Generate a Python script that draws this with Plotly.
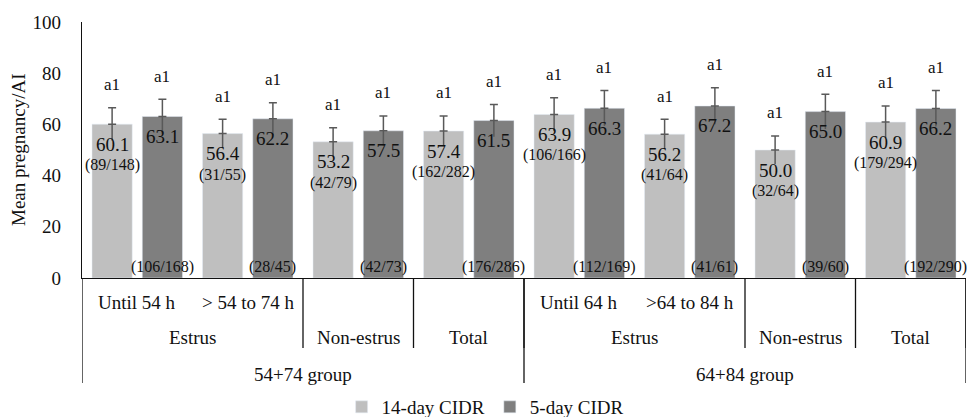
import plotly.graph_objects as go

# ---- data ----
sub_labels = ["Until 54 h", "> 54 to 74 h", "", "", "Until 64 h", ">64 to 84 h", "", ""]
mid_labels = ["Estrus", "Non-estrus", "Total", "Estrus", "Non-estrus", "Total"]
mid_spans = [2, 1, 1, 2, 1, 1]
top_labels = ["54+74 group", "64+84 group"]
top_spans = [4, 4]

series_names = ["14-day CIDR", "5-day CIDR"]
cidr14 = [60.1, 56.4, 53.2, 57.4, 63.9, 56.2, 50.0, 60.9]
cidr5 = [63.1, 62.2, 57.5, 61.5, 66.3, 67.2, 65.0, 66.2]
err14 = [6.4, 5.6, 5.5, 5.9, 6.5, 5.8, 5.5, 6.3]
err5 = [6.7, 6.3, 5.8, 6.3, 6.9, 7.1, 6.8, 7.0]
n14 = ["(89/148)", "(31/55)", "(42/79)", "(162/282)", "(106/166)", "(41/64)", "(32/64)", "(179/294)"]
n5 = ["(106/168)", "(28/45)", "(42/73)", "(176/286)", "(112/169)", "(41/61)", "(39/60)", "(192/290)"]
sig14 = ["a1"] * 8
sig5 = ["a1"] * 8

# ---- styling ----
FONT = "Liberation Serif"
TXT = "#111111"
LIGHT = "#BFBFBF"
DARK = "#7F7F7F"
ERR = "#595959"
BARGAP = 0.09
GROUPGAP = 0.2

xs = list(range(len(sub_labels)))
off = (1 - BARGAP) / 4

fig = go.Figure()
for name, vals, errs, col, sgn in ((series_names[0], cidr14, err14, LIGHT, -1),
                                   (series_names[1], cidr5, err5, DARK, 1)):
    fig.add_trace(go.Bar(x=xs, y=vals, name=name, marker_color=col,
                         error_y=dict(type="data", symmetric=False, array=errs,
                                      arrayminus=[0] * len(errs), color=ERR,
                                      thickness=1.5, width=4)))
for vals, errs, sgn in ((cidr14, err14, -1), (cidr5, err5, 1)):
    lx, ly = [], []
    for i in xs:
        lx += [i + sgn * off, i + sgn * off, None]
        ly += [vals[i] - errs[i], vals[i], None]
    fig.add_trace(go.Scatter(x=lx, y=ly, mode="lines", line=dict(color=ERR, width=1.5),
                             showlegend=False, hoverinfo="skip"))

ann = []
for i in xs:
    for sgn, vals, errs, ns, sigs, dark in ((-1, cidr14, err14, n14, sig14, False),
                                           (1, cidr5, err5, n5, sig5, True)):
        x = i + sgn * off
        v = vals[i]
        ann.append(dict(x=x, y=v, yref="y", xref="x", text=f"{v:.1f}", showarrow=False,
                        yanchor="middle", yshift=-20, font=dict(family=FONT, size=19, color=TXT)))
        ann.append(dict(x=x, y=v + errs[i], yref="y", xref="x", text=sigs[i], showarrow=False,
                        yanchor="middle", yshift=23, font=dict(family=FONT, size=17, color=TXT)))
        if dark:
            ann.append(dict(x=x, y=0, yref="y", xref="x", text=ns[i], showarrow=False,
                            yanchor="middle", yshift=11, font=dict(family=FONT, size=16, color=TXT)))
        else:
            ann.append(dict(x=x, y=v, yref="y", xref="x", text=ns[i], showarrow=False,
                            yanchor="middle", yshift=-41, font=dict(family=FONT, size=16, color=TXT)))

# category axis labels
PH = 256.0
def py(px_below):
    return -px_below / PH

for i, lab in enumerate(sub_labels):
    if lab:
        ann.append(dict(x=i, y=py(24), xref="x", yref="paper", text=lab, showarrow=False,
                        xanchor="center", yanchor="middle",
                        font=dict(family=FONT, size=19, color=TXT)))

shapes = []
line = dict(color=TXT, width=1.3)
start = -0.5
for lab, span in zip(mid_labels, mid_spans):
    ann.append(dict(x=start + span / 2, y=py(59), xref="x", yref="paper", text=lab,
                    showarrow=False, xanchor="center", yanchor="middle",
                    font=dict(family=FONT, size=19, color=TXT)))
    shapes.append(dict(type="line", xref="x", yref="paper", x0=start + span, x1=start + span,
                       y0=0, y1=py(70), line=line))
    start += span

start = -0.5
shapes.append(dict(type="line", xref="x", yref="paper", x0=start, x1=start,
                   y0=0, y1=py(105), line=line))
for lab, span in zip(top_labels, top_spans):
    ann.append(dict(x=start + span / 2, y=py(96), xref="x", yref="paper", text=lab,
                    showarrow=False, xanchor="center", yanchor="middle",
                    font=dict(family=FONT, size=19, color=TXT)))
    shapes.append(dict(type="line", xref="x", yref="paper", x0=start + span, x1=start + span,
                       y0=0, y1=py(105), line=line))
    start += span

# y-axis title
ann.append(dict(x=-64 / 884, y=0.5, xref="paper", yref="paper", text="Mean pregnancy/AI",
                textangle=-90, showarrow=False, xanchor="center", yanchor="middle",
                font=dict(family=FONT, size=19, color=TXT)))

fig.update_layout(
    width=968, height=417,
    margin=dict(l=82, r=2, t=22, b=139, autoexpand=False),
    paper_bgcolor="white", plot_bgcolor="white",
    barmode="group", bargap=BARGAP, bargroupgap=GROUPGAP,
    font=dict(family=FONT, size=19, color=TXT),
    showlegend=True,
    legend=dict(orientation="h", x=0.456, xanchor="center", y=py(129), yanchor="middle",
                font=dict(family=FONT, size=19, color=TXT), itemwidth=30,
                bgcolor="rgba(0,0,0,0)"),
    annotations=ann, shapes=shapes,
)
fig.update_xaxes(range=[-0.5, len(xs) - 0.5], showticklabels=False, ticks="",
                 showline=True, linecolor=TXT, linewidth=1.3, showgrid=False, zeroline=False)
fig.update_yaxes(range=[0, 100], dtick=20, showgrid=False, zeroline=False, ticks="",
                 showline=True, linecolor=TXT, linewidth=1.3, ticklabelstandoff=16,
                 tickfont=dict(family=FONT, size=19, color=TXT))

fig.write_html("out.html")
